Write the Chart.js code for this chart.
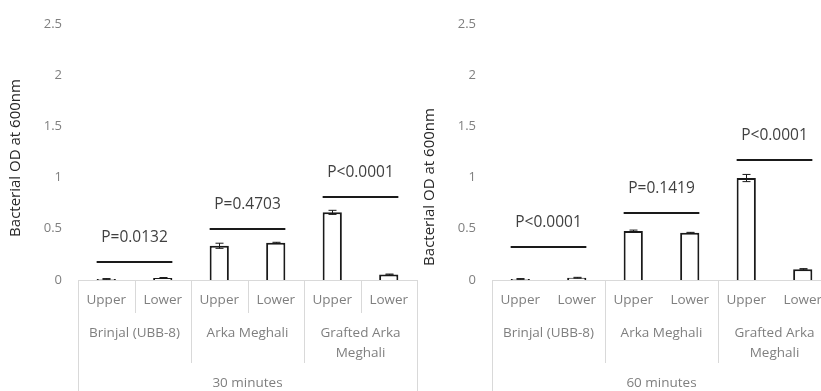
<!DOCTYPE html>
<html lang="en">
<head>
    <meta charset="UTF-8">
    <title>Bacterial OD</title>
    <script src="https://cdn.jsdelivr.net/npm/chart.js"></script>
    <style>
        body { margin: 0; background: #fff; overflow: hidden; width: 821px; height: 391px; position: relative; }
        .painel { position: absolute; top: 0; width: 420px; height: 391px; }
    </style>
</head>
<body>
    <div class="painel" style="left: 0px;"><canvas id="grafico30" width="420" height="391"></canvas></div>
    <div class="painel" style="left: 414px;"><canvas id="grafico60" width="420" height="391"></canvas></div>

<script>
    // dados
    const subLabels = ['Upper', 'Lower', 'Upper', 'Lower', 'Upper', 'Lower'];
    const groupLabels = [['Brinjal (UBB-8)'], ['Arka Meghali'], ['Grafted Arka', 'Meghali']];
    const timeLabels = ['30 minutes', '60 minutes'];
    const yTicks = [0, 0.5, 1, 1.5, 2, 2.5];

    const od30 = [0.01, 0.02, 0.334, 0.363, 0.66, 0.054];
    const err30 = [0.004, 0.004, 0.025, 0.005, 0.02, 0.004];
    const pTexto30 = ['P=0.0132', 'P=0.4703', 'P<0.0001'];
    const pLinha30 = [0.175, 0.496, 0.81];

    const od60 = [0.01, 0.022, 0.477, 0.461, 0.995, 0.105];
    const err60 = [0.004, 0.004, 0.01, 0.004, 0.035, 0.006];
    const pTexto60 = ['P<0.0001', 'P=0.1419', 'P<0.0001'];
    const pLinha60 = [0.324, 0.658, 1.174];

    Chart.defaults.font.family = "'Open Sans', sans-serif";

    const extras = {
        id: 'extras',
        afterDatasetsDraw(chart, args, opts) {
            const ctx = chart.ctx;
            const x = chart.scales.x;
            const y = chart.scales.y;
            const meta = chart.getDatasetMeta(0);

            // barras de erro
            ctx.save();
            ctx.strokeStyle = '#1a1a1a';
            ctx.lineWidth = 1;
            for (let i = 0; i < opts.valores.length; i++) {
                const px = Math.round(x.getPixelForValue(i)) + 0.5;
                const yt = y.getPixelForValue(opts.valores[i] + opts.erros[i]);
                const yb = y.getPixelForValue(Math.max(0, opts.valores[i] - opts.erros[i]));
                ctx.beginPath();
                ctx.moveTo(px, yt); ctx.lineTo(px, yb);
                ctx.moveTo(px - 4, yt); ctx.lineTo(px + 4, yt);
                ctx.moveTo(px - 4, yb); ctx.lineTo(px + 4, yb);
                ctx.stroke();
            }

            // linhas e textos dos valores P
            ctx.lineWidth = 2;
            ctx.font = "15.5px 'Open Sans'";
            ctx.fillStyle = '#404040';
            ctx.textAlign = 'center';
            ctx.textBaseline = 'middle';
            for (let g = 0; g < opts.pLinhas.length; g++) {
                const b0 = meta.data[2 * g];
                const b1 = meta.data[2 * g + 1];
                const x0 = b0.x - b0.width / 2;
                const x1 = b1.x + b1.width / 2;
                const py = Math.round(y.getPixelForValue(opts.pLinhas[g]));
                ctx.beginPath();
                ctx.moveTo(x0, py); ctx.lineTo(x1, py);
                ctx.stroke();
                ctx.fillText(opts.pTextos[g], (x0 + x1) / 2, py - 24);
            }
            ctx.restore();
        },
        afterDraw(chart, args, opts) {
            const ctx = chart.ctx;
            const x = chart.scales.x;
            const area = chart.chartArea;
            const base = area.bottom;

            ctx.save();
            // divisorias do eixo
            ctx.strokeStyle = '#d9d9d9';
            ctx.lineWidth = 1;
            const passo = x.getPixelForValue(1) - x.getPixelForValue(0);
            ctx.beginPath();
            for (let i = 0; i <= subLabels.length; i++) {
                const sx = Math.round(x.getPixelForValue(i) - passo / 2) + 0.5;
                let fim;
                if (i === 0 || i === subLabels.length) fim = 391;
                else if (i % 2 === 0) fim = base + 83;
                else if (opts.internas) fim = base + 33;
                else continue;
                ctx.moveTo(sx, base); ctx.lineTo(sx, fim);
            }
            ctx.stroke();

            // rotulos
            ctx.fillStyle = '#7f7f7f';
            ctx.font = "13.5px 'Open Sans'";
            ctx.textAlign = 'center';
            ctx.textBaseline = 'middle';
            for (let i = 0; i < subLabels.length; i++) {
                ctx.fillText(subLabels[i], x.getPixelForValue(i), base + 20);
            }
            for (let g = 0; g < groupLabels.length; g++) {
                const cx = (x.getPixelForValue(2 * g) + x.getPixelForValue(2 * g + 1)) / 2;
                groupLabels[g].forEach(function (linha, k) {
                    ctx.fillText(linha, cx, base + 53 + k * 20);
                });
            }
            ctx.fillText(opts.tempo, (area.left + area.right) / 2, base + 103);

            // titulo do eixo y
            ctx.fillStyle = '#262626';
            ctx.font = "15px 'Open Sans'";
            ctx.translate(16, opts.tituloY);
            ctx.rotate(-Math.PI / 2);
            ctx.fillText('Bacterial OD at 600nm', 0, 0);
            ctx.restore();
        }
    };

    function criarGrafico(idCanvas, valores, erros, pTextos, pLinhas, tempo, internas, tituloY) {
        const config = {
            type: 'bar',
            data: {
                labels: subLabels,
                datasets: [{
                    data: valores,
                    backgroundColor: '#ffffff',
                    borderColor: '#1a1a1a',
                    borderWidth: 2,
                    categoryPercentage: 1,
                    barPercentage: 0.34
                }]
            },
            options: {
                responsive: false,
                animation: false,
                layout: { padding: { top: 18, right: 3, left: 0, bottom: 0 } },
                plugins: {
                    legend: { display: false },
                    tooltip: { enabled: false },
                    extras: {
                        valores: valores, erros: erros, pTextos: pTextos, pLinhas: pLinhas,
                        tempo: tempo, internas: internas, tituloY: tituloY
                    }
                },
                scales: {
                    x: {
                        grid: { display: false },
                        border: { display: true, color: '#d9d9d9', width: 1 },
                        ticks: { display: false },
                        afterFit: function (s) { s.height = 111; }
                    },
                    y: {
                        min: 0,
                        max: 2.5,
                        grid: { display: false, drawTicks: false },
                        border: { display: false },
                        afterBuildTicks: function (s) { s.ticks = yTicks.map(v => ({ value: v })); },
                        ticks: {
                            color: '#7f7f7f',
                            font: { size: 13 },
                            padding: 16,
                            callback: function (v) { return String(v); }
                        },
                        afterFit: function (s) { s.width = 78; }
                    }
                }
            },
            plugins: [extras]
        };
        return new Chart(document.getElementById(idCanvas), config);
    }

    criarGrafico('grafico30', od30, err30, pTexto30, pLinha30, timeLabels[0], true, 158);
    criarGrafico('grafico60', od60, err60, pTexto60, pLinha60, timeLabels[1], false, 187);
</script>
</body>
</html>
